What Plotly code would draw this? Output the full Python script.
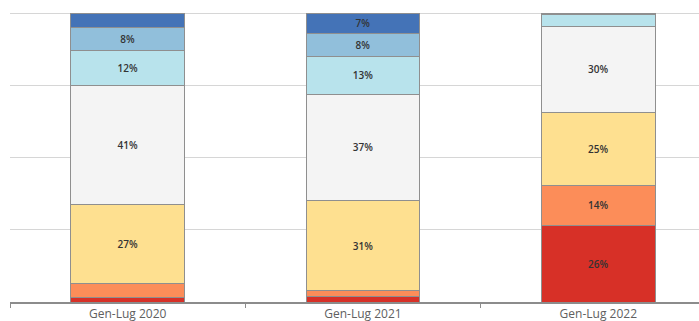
import plotly.graph_objects as go

# Periods on the category axis
periods = ["Gen-Lug 2020", "Gen-Lug 2021", "Gen-Lug 2022"]

# Share of each class per period (%), stacked bottom to top
class_1 = [1.7, 2.0, 26.5]
class_2 = [4.8, 2.0, 14.0]
class_3 = [27.4, 31.0, 25.0]
class_4 = [41.0, 37.0, 30.0]
class_5 = [12.0, 13.0, 4.2]
class_6 = [8.0, 8.0, 0.3]
class_7 = [5.1, 7.0, 0.0]

series = [class_1, class_2, class_3, class_4, class_5, class_6, class_7]
colors = ["#d73027", "#fc8d59", "#fee090", "#f4f4f4", "#b8e3ec", "#91bfdb", "#4473b7"]

MIN_LABEL = 6.5  # segments thinner than this carry no label

fig = go.Figure()
for vals, col in zip(series, colors):
    fig.add_trace(go.Bar(
        x=periods,
        y=vals,
        width=0.484,
        marker=dict(color=col, line=dict(color="#8f8f8f", width=1)),
        text=[f"{v:.0f}%" if v >= MIN_LABEL else "" for v in vals],
        textposition="inside",
        insidetextanchor="middle",
        textangle=0,
        constraintext="none",
        textfont=dict(family="Open Sans", size=10, color="#333333", weight=600),
        hoverinfo="skip",
        showlegend=False,
        cliponaxis=False,
    ))

fig.update_layout(
    barmode="stack",
    width=699,
    height=321,
    margin=dict(l=10, r=0, t=12, b=19),
    paper_bgcolor="white",
    plot_bgcolor="white",
    uniformtext=dict(mode=False),
    xaxis=dict(
        range=[-0.5, 2.428],
        automargin=False,
        showgrid=False,
        showline=True,
        linecolor="#8c8c8c",
        linewidth=2,
        ticks="outside",
        tickson="boundaries",
        ticklen=4,
        tickcolor="#8c8c8c",
        ticklabelstandoff=0,
        tickfont=dict(family="Open Sans", size=12, color="#606060", weight=500),
        fixedrange=True,
    ),
    yaxis=dict(
        range=[0, 100.4],
        automargin=False,
        tickvals=[0, 25, 50, 75, 100],
        showticklabels=False,
        showgrid=True,
        gridcolor="#d6d6d6",
        gridwidth=1,
        zeroline=False,
        fixedrange=True,
    ),
)

fig.write_html("out.html")
